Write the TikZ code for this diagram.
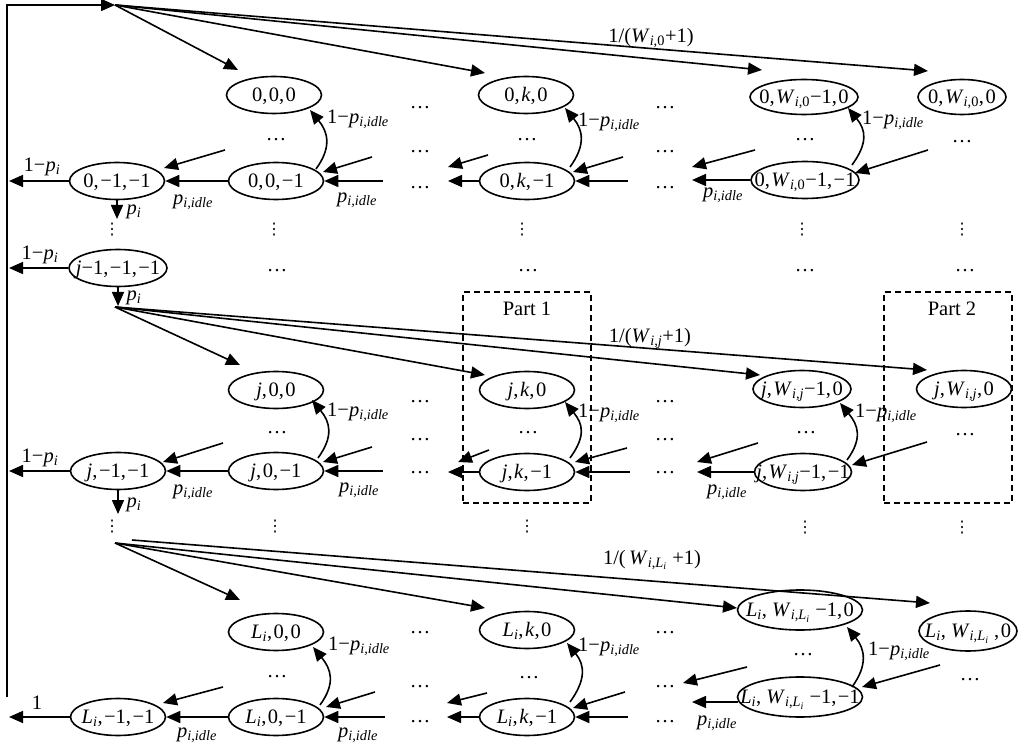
\documentclass[tikz,border=0pt]{standalone}
\usepackage{fontspec}
\setmainfont{Liberation Serif}
\newfontfamily\djv{DejaVu Sans}
\usetikzlibrary{shapes.geometric,arrows.meta}
\newcommand\iv[1]{\textit{#1}}
\newcommand\sbs[1]{\textsubscript{#1}}
\newcommand\cmm{,\kern1.5pt}
\newcommand\pidle{\iv{p}\sbs{\iv{i,idle}}}
\newcommand\pii{\iv{p}\sbs{\iv{i}}}
\newcommand\Wz{\iv{W}\sbs{\iv{i},0}}
\newcommand\Wj{\iv{W}\sbs{\iv{i,j}}}
\newcommand\Li{\iv{L}\sbs{\iv{i}}}
\newcommand\WL{\iv{W}\sbs{\iv{i},\iv{L}\sbs{\iv{i}}}}
\newcommand\stnode[4]{\node[st,#1] (#2) at (#3) {\makebox[0pt]{#4}};}
\begin{document}
\begin{tikzpicture}[x=1pt,y=-1pt,
  every node/.style={font=\fontsize{20.5}{24}\selectfont, inner sep=0pt},
  st/.style={draw, ellipse, line width=1.6pt, minimum width=95pt, minimum height=37pt, text height=13.5pt, text depth=0pt},
  arr/.style={-{Triangle[length=14pt,width=12pt]}, line width=1.6pt},
  vdt/.style={font=\djv\fontsize{16}{20}\selectfont},
  partbox/.style={draw, dash pattern=on 6pt off 4pt, line width=1.5pt, minimum width=128pt, minimum height=211pt}]
\useasboundingbox (0,0) rectangle (1021,746);

% ---------- nodes ----------
\stnode{}{a00}{274,95}{0\cmm0\cmm0}
\stnode{}{a0k}{526,95}{0\cmm\iv{k}\cmm0}
\stnode{minimum width=108pt,minimum height=35pt}{a0W1}{804,97}{0\cmm\Wz−1\cmm0}
\stnode{minimum width=88pt,minimum height=35pt}{a0W}{962,97}{0\cmm\Wz\cmm0}
\stnode{}{b0m}{117,181}{0\cmm−1\cmm−1}
\stnode{}{b00}{276,181}{0\cmm0\cmm−1}
\stnode{}{b0k}{527,181}{0\cmm\iv{k}\cmm−1}
\stnode{minimum width=108pt}{b0W1}{805,180}{0\cmm\Wz−1\cmm−1}
\stnode{minimum width=98pt}{c}{118,268}{\iv{j}−1\cmm−1\cmm−1}
\stnode{}{d0}{276,390}{\iv{j}\cmm0\cmm0}
\stnode{}{dk}{527,390}{\iv{j}\cmm\iv{k}\cmm0}
\stnode{minimum width=98pt}{dW1}{802,389}{\iv{j}\cmm\Wj−1\cmm0}
\stnode{}{dW}{964,389}{\iv{j}\cmm\Wj\cmm0}
\stnode{}{em}{118,471}{\iv{j}\cmm−1\cmm−1}
\stnode{}{e0}{276,471}{\iv{j}\cmm0\cmm−1}
\stnode{}{ek}{527,472}{\iv{j}\cmm\iv{k}\cmm−1}
\stnode{minimum width=97pt}{eW1}{803,472}{\iv{j}\cmm\Wj−1\cmm−1}
\stnode{}{f0}{276,632}{\Li\cmm0\cmm0}
\stnode{}{fk}{527,630}{\Li\cmm\iv{k}\cmm0}
\stnode{minimum width=125pt,minimum height=40pt}{fW1}{800,610}{\Li, \WL\ −1\cmm0}
\stnode{minimum width=98pt,minimum height=40pt}{fW}{968,631}{\Li, \WL\ \cmm0}
\stnode{}{gm}{118,717}{\Li\cmm−1\cmm−1}
\stnode{}{g0}{276,717}{\Li\cmm0\cmm−1}
\stnode{}{gk}{527,717}{\Li\cmm\iv{k}\cmm−1}
\stnode{minimum width=125pt,minimum height=40pt}{gW1}{800,697}{\Li, \WL\ −1\cmm−1}

% ---------- dashed parts ----------
\node[partbox] (part1) at (527,397.5) {};
\node[partbox] (part2) at (948,397.5) {};
\node (part1l) at (527,309) {Part 1};
\node (part2l) at (952,309) {Part 2};

% ---------- coordinates ----------
\coordinate (o0) at (115,5);
\coordinate (o1) at (115,307);
\coordinate (o2) at (115,543);
\coordinate (o3) at (132,540);
\coordinate (lb) at (7,697);
\coordinate (x0) at (9,181);
\coordinate (x1) at (9,268);
\coordinate (x2) at (9,471);
\coordinate (x3) at (9,717);
\coordinate (q0) at (117,219);
\coordinate (q1) at (118,306);
\coordinate (q2) at (118,514);

% ---------- feedback loop ----------
\draw[arr] (lb) |- (o0);

% ---------- fan stage 0 ----------
\draw[arr] (o0) -- ([shift={(-36,-25)}]a00.center);
\draw[arr] (o0) -- ([shift={(-41,-22)}]a0k.center);
\draw[arr] (o0) -- ([shift={(-42,-27)}]a0W1.center);
\draw[arr] (o0) -- ([shift={(-34,-26)}]a0W.center);
\node (w0) at (651,38) {1/(\Wz+1)};

% ---------- row 0 ----------
\draw[arr] (b0m.west) -- (x0);
\node (lp0) at (42,167) {1−\pii};
\draw[arr] (b0m.south) -- (q0);
\node (pi0) at (134,212) {\pii};
\draw[arr] (b00) -- (b0m);
\node (pd01) at (193,202) {\pidle};
\draw[arr] ([shift={(-51,-31)}]b00.center) -- ([shift={(47,-13)}]b0m.center);
\draw[arr] ([shift={(96,-24)}]b00.center) -- ([shift={(47,-9)}]b00.center);
\draw[arr] ([shift={(107,0)}]b00.center) -- (b00.east);
\node (pd02) at (357,200) {\pidle};
\draw[arr] ([shift={(40,-12)}]b00.center) .. controls +(16,-22) and +(18,22) .. ([shift={(36,15)}]a00.center);
\node[anchor=west] (c01) at (327,119) {1−\pidle};
\draw[arr] (b0k.west) -- ([shift={(-79,0)}]b0k.center);
\draw[arr] ([shift={(-39,-26)}]b0k.center) -- ([shift={(-79,-14)}]b0k.center);
\draw[arr] ([shift={(96,-24)}]b0k.center) -- ([shift={(46,-9)}]b0k.center);
\draw[arr] ([shift={(101,0)}]b0k.center) -- (b0k.east);
\draw[arr] ([shift={(43,-14)}]b0k.center) .. controls +(16,-22) and +(18,22) .. ([shift={(39,13)}]a0k.center);
\node[anchor=west] (c02) at (578,122) {1−\pidle};
\draw[arr] (b0W1.west) -- ([shift={(-113,0)}]b0W1.center);
\draw[arr] ([shift={(-50,-30)}]b0W1.center) -- ([shift={(-113,-13)}]b0W1.center);
\draw[arr] ([shift={(123,-30)}]b0W1.center) -- ([shift={(50,-7)}]b0W1.center);
\node (pd03) at (723,195) {\pidle};
\draw[arr] ([shift={(47,-15)}]b0W1.center) .. controls +(16,-22) and +(18,22) .. ([shift={(44,11)}]a0W1.center);
\node[anchor=west] (c03) at (862,120) {1−\pidle};

% dots row 0
\node (h01) at (276,140) {…};
\node (h02) at (527,140) {…};
\node (h03) at (805,140) {…};
\node (h04) at (962,142) {…};
\node (h05) at (420,108) {…};
\node (h06) at (420,152) {…};
\node (h07) at (420,188) {…};
\node (h08) at (665,108) {…};
\node (h09) at (665,152) {…};
\node (h10) at (665,188) {…};
\node[vdt] (v01) at (112,230) {⋮};
\node[vdt] (v02) at (274,230) {⋮};
\node[vdt] (v03) at (522,230) {⋮};
\node[vdt] (v04) at (802,230) {⋮};
\node[vdt] (v05) at (962,230) {⋮};

% ---------- row j-1 ----------
\draw[arr] (c.west) -- (x1);
\node (lp1) at (40,255) {1−\pii};
\draw[arr] (c.south) -- (q1);
\node (pi1) at (134,298) {\pii};
\node (h11) at (277,271) {…};
\node (h12) at (528,271) {…};
\node (h13) at (805,271) {…};
\node (h14) at (965,271) {…};

% ---------- fan stage j ----------
\draw[arr] (o1) -- ([shift={(-36,-25)}]d0.center);
\draw[arr] (o1) -- ([shift={(-42,-15)}]dk.center);
\draw[arr] (o1) -- ([shift={(-42,-14)}]dW1.center);
\draw[arr] (o1) -- ([shift={(-37,-19)}]dW.center);
\node (w1) at (650,338) {1/(\Wj+1)};

% ---------- row j ----------
\draw[arr] (em.west) -- (x2);
\node (lp2) at (40,458) {1−\pii};
\draw[arr] (em.south) -- (q2);
\node (pi2) at (134,505) {\pii};
\draw[arr] (e0) -- (em);
\node (pd11) at (193,492) {\pidle};
\draw[arr] ([shift={(-53,-28)}]e0.center) -- ([shift={(45,-9)}]em.center);
\draw[arr] ([shift={(96,-24)}]e0.center) -- ([shift={(47,-9)}]e0.center);
\draw[arr] ([shift={(107,0)}]e0.center) -- (e0.east);
\node (pd12) at (359,490) {\pidle};
\draw[arr] ([shift={(42,-13)}]e0.center) .. controls +(16,-22) and +(18,22) .. ([shift={(36,10)}]d0.center);
\node[anchor=west] (c11) at (327,412) {1−\pidle};
\draw[arr] (ek.west) -- ([shift={(-79,0)}]ek.center);
\draw[arr] ([shift={(-38,-22)}]ek.center) -- ([shift={(-69,-10)}]ek.center);
\draw[arr] ([shift={(100,-24)}]ek.center) -- ([shift={(48,-10)}]ek.center);
\draw[arr] ([shift={(103,0)}]ek.center) -- (ek.east);
\draw[arr] ([shift={(43,-14)}]ek.center) .. controls +(16,-22) and +(18,22) .. ([shift={(38,12)}]dk.center);
\node[anchor=west] (c12) at (578,413) {1−\pidle};
\draw[arr] (eW1.west) -- ([shift={(-106,0)}]eW1.center);
\draw[arr] ([shift={(-45,-29)}]eW1.center) -- ([shift={(-106,-10)}]eW1.center);
\draw[arr] ([shift={(124,-30)}]eW1.center) -- ([shift={(49,-7)}]eW1.center);
\node (pd13) at (727,492) {\pidle};
\draw[arr] ([shift={(44,-12)}]eW1.center) .. controls +(16,-22) and +(18,22) .. ([shift={(38,14)}]dW1.center);
\node[anchor=west] (c13) at (855,413) {1−\pidle};

% dots row j
\node (h21) at (277,433) {…};
\node (h22) at (528,433) {…};
\node (h23) at (806,433) {…};
\node (h24) at (965,435) {…};
\node (h25) at (420,402) {…};
\node (h26) at (420,440) {…};
\node (h27) at (420,473) {…};
\node (h28) at (665,402) {…};
\node (h29) at (665,440) {…};
\node (h30) at (665,473) {…};
\node[vdt] (v11) at (112,527) {⋮};
\node[vdt] (v12) at (275,527) {⋮};
\node[vdt] (v13) at (527,527) {⋮};
\node[vdt] (v14) at (805,528) {⋮};
\node[vdt] (v15) at (962,528) {⋮};

% ---------- fan stage L ----------
\draw[arr] (o2) -- ([shift={(-36,-32)}]f0.center);
\draw[arr] (o2) -- ([shift={(-42,-22)}]fk.center);
\draw[arr] (o2) -- ([shift={(-63,-2)}]fW1.center);
\draw[arr] (o3) -- ([shift={(-38,-28)}]fW.center);
\node (w2) at (652,560) {1/(\,\WL\ +1)};

% ---------- row L ----------
\draw[arr] (gm.west) -- (x3);
\node (lp3) at (37,703) {1};
\draw[arr] (g0) -- (gm);
\node (pd21) at (197,735) {\pidle};
\draw[arr] ([shift={(-53,-30)}]g0.center) -- ([shift={(45,-14)}]gm.center);
\draw[arr] ([shift={(99,-25)}]g0.center) -- ([shift={(50,-10)}]g0.center);
\draw[arr] ([shift={(109,0)}]g0.center) -- (g0.east);
\node (pd22) at (358,735) {\pidle};
\draw[arr] ([shift={(44,-12)}]g0.center) .. controls +(16,-22) and +(18,22) .. ([shift={(37,15)}]f0.center);
\node[anchor=west] (c21) at (328,646) {1−\pidle};
\draw[arr] (gk.west) -- ([shift={(-80,0)}]gk.center);
\draw[arr] ([shift={(-40,-24)}]gk.center) -- ([shift={(-80,-14)}]gk.center);
\draw[arr] ([shift={(98,-25)}]gk.center) -- ([shift={(46,-9)}]gk.center);
\draw[arr] ([shift={(101,0)}]gk.center) -- (gk.east);
\draw[arr] ([shift={(43,-15)}]gk.center) .. controls +(16,-22) and +(18,22) .. ([shift={(40,13)}]fk.center);
\node[anchor=west] (c22) at (578,647) {1−\pidle};
\draw[arr] ([shift={(-62,5)}]gW1.center) -- ([shift={(-108,5)}]gW1.center);
\draw[arr] ([shift={(-53,-30)}]gW1.center) -- ([shift={(-117,-14)}]gW1.center);
\draw[arr] ([shift={(140,-32)}]gW1.center) -- ([shift={(62,-10)}]gW1.center);
\node (pd23) at (717,723) {\pidle};
\draw[arr] ([shift={(52,-10)}]gW1.center) .. controls +(16,-22) and +(18,22) .. ([shift={(47,17)}]fW1.center);
\node[anchor=west] (c23) at (868,651) {1−\pidle};

% dots row L
\node (h31) at (277,677) {…};
\node (h32) at (529,678) {…};
\node (h33) at (803,655) {…};
\node (h34) at (970,680) {…};
\node (h35) at (420,633) {…};
\node (h36) at (420,687) {…};
\node (h37) at (420,722) {…};
\node (h38) at (665,633) {…};
\node (h39) at (665,687) {…};
\node (h40) at (665,722) {…};
\end{tikzpicture}
\end{document}
